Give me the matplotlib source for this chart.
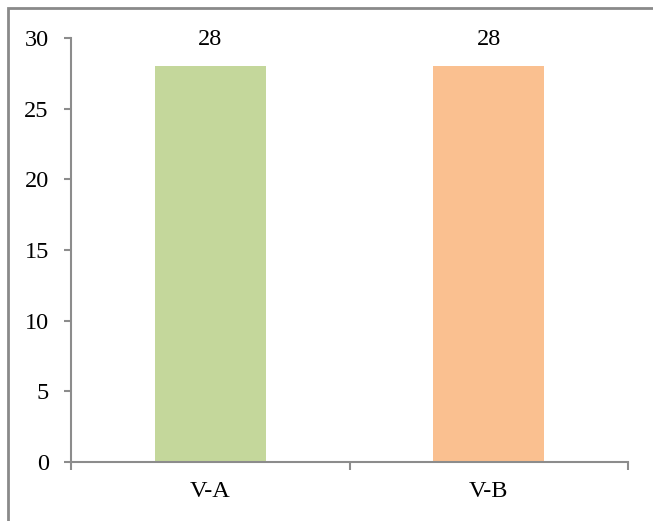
import matplotlib.pyplot as plt
from matplotlib.patches import Rectangle

categories = ['V-A', 'V-B']
values = [28, 28]
colors = ['#C4D79B', '#FAC090']
yticks = [0, 5, 10, 15, 20, 25, 30]

plt.rcParams['font.family'] = 'Liberation Serif'
axis_gray = '#8C8C8C'
fs = 17.5

fig = plt.figure(figsize=(6.53, 5.21), dpi=100)
ax = fig.add_axes([71 / 653, 1 - 462 / 521, 557 / 653, 424 / 521])

pos = range(len(categories))
bars = ax.bar(pos, values, width=0.4, color=colors)
for bar, v in zip(bars, values):
    ax.annotate(str(v), (bar.get_x() + bar.get_width() / 2, v),
                xytext=(0, 12), textcoords='offset points',
                ha='center', va='bottom', fontsize=fs)

ax.set_xlim(-0.5, len(categories) - 0.5)
ax.set_ylim(0, 30)
ax.set_yticks(yticks)
ax.set_xticks(pos)
ax.set_xticklabels(categories)
ax.set_xticks([-0.5, 0.5, 1.5], minor=True)

for side in ['top', 'right']:
    ax.spines[side].set_visible(False)
for side in ['left', 'bottom']:
    ax.spines[side].set_color(axis_gray)
    ax.spines[side].set_linewidth(1.5)

ax.tick_params(axis='y', length=5, width=1.5, color=axis_gray,
               labelsize=fs, pad=11)
ax.tick_params(axis='x', which='major', length=0, labelsize=fs, pad=14)
ax.tick_params(axis='x', which='minor', length=5.5, width=1.5, color=axis_gray)

# outer frame of the chart area, running off the right and bottom edges
frame = Rectangle((8 / 653, -0.1), 1.2, 1.1 - 8 / 521, transform=fig.transFigure,
                  fill=False, edgecolor='#8A8A8A', linewidth=2, clip_on=False)
fig.patches.append(frame)

fig.savefig('out.png', dpi=100)
